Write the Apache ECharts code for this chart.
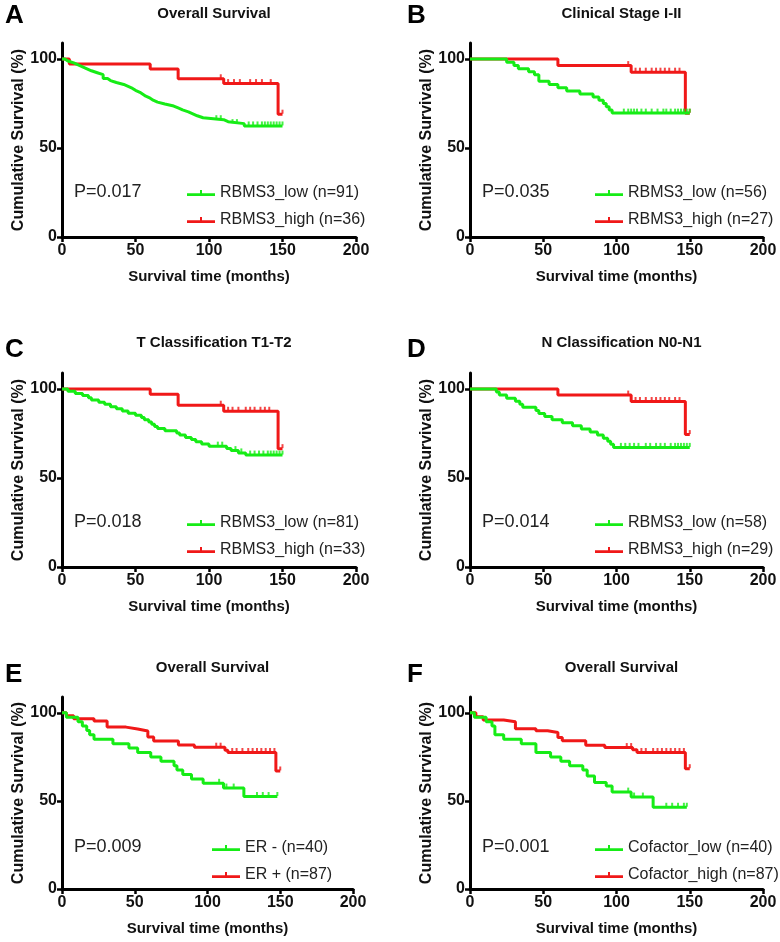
<!DOCTYPE html>
<html>
<head>
<meta charset="utf-8">
<script src="https://cdn.jsdelivr.net/npm/echarts@6/dist/echarts.min.js"></script>
<style>html,body{margin:0;padding:0;background:#fff;}#c{width:780px;height:942px;}</style>
</head>
<body>
<div id="c"></div>
<script>
// ---------- DATA ----------
const titles = ['Overall Survival', 'Clinical Stage I-II', 'T Classification T1-T2', 'N Classification N0-N1', 'Overall Survival', 'Overall Survival'];
const letters = ['A', 'B', 'C', 'D', 'E', 'F'];
const pTexts = ['P=0.017', 'P=0.035', 'P=0.018', 'P=0.014', 'P=0.009', 'P=0.001'];
const lowNames = ['RBMS3_low (n=91)', 'RBMS3_low (n=56)', 'RBMS3_low (n=81)', 'RBMS3_low (n=58)', 'ER - (n=40)', 'Cofactor_low (n=40)'];
const highNames = ['RBMS3_high (n=36)', 'RBMS3_high (n=27)', 'RBMS3_high (n=33)', 'RBMS3_high (n=29)', 'ER + (n=87)', 'Cofactor_high (n=87)'];
const xTicks = [0, 50, 100, 150, 200];
const yTicks = [0, 50, 100];
const xName = 'Survival time (months)';
const yName = 'Cumulative Survival (%)';

// Panel A
const aLowT = [0,2,4,8,11,14,17,20,24,28,31,33,37,42,45,48,50,53,55,57,60,62,65,70,76,79,82,86,89,92,96,110,113,124,150];
const aLowS = [100,98.9,97.8,96.7,95.6,94.5,93.4,92.3,91.2,89.0,87.9,86.8,85.7,84.6,83.5,82.4,81.3,80.2,79.1,78.0,76.9,75.8,74.7,73.6,72.5,71.4,70.3,69.2,68.1,67.0,65.9,64.8,63.7,62.4,62.4];
const aLowCens = [105,108,116,119,127,130,133,136,138,140,142,144,146,148,150];
const aHighT = [0,5,60,79,110,147,150];
const aHighS = [100,97.2,94.4,88.9,86.2,69.0,69.0];
const aHighCens = [108,113,117,121,128,132,136,142,150];
// Panel B
const bLowT = [0,25,30,33,40,44,47,54,60,66,75,84,88,91,93,95,97,150];
const bLowS = [100,98.2,96.4,94.6,92.9,91.1,87.5,85.7,83.9,82.1,80.4,78.6,76.8,75.0,73.2,71.4,69.6,69.6];
const bLowCens = [105,108,110,112,114,117,120,124,128,132,134,137,140,142,144,146,148,150];
const bHighT = [0,60,110,147,150];
const bHighS = [100,96.3,92.6,69.5,69.5];
const bHighCens = [108,113,116,120,124,127,130,133,136,140,143,150];
// Panel C
const cLowT = [0,4,9,14,18,20,25,29,33,37,41,45,50,54,56,59,61,63,65,70,78,80,84,88,91,95,100,112,115,120,125,150];
const cLowS = [100,98.8,97.5,96.3,95.1,93.8,92.6,91.4,90.1,88.9,87.7,86.4,85.2,84.0,82.7,81.5,80.2,79.0,77.8,76.5,75.3,74.1,72.8,71.6,70.4,69.1,67.9,66.6,65.4,64.1,62.9,62.9];
const cLowCens = [106,109,118,122,128,131,134,137,140,142,144,146,148,150];
const cHighT = [0,60,79,110,147,150];
const cHighS = [100,97.0,90.9,87.5,66.5,66.5];
const cHighCens = [108,113,116,120,125,128,131,135,138,141,150];
// Panel D
const dLowT = [0,18,20,25,31,34,36,45,47,51,56,63,70,76,82,87,91,94,96,98,150];
const dLowS = [100,98.3,96.6,94.8,93.1,91.4,89.7,87.9,86.2,84.5,82.8,81.0,79.3,77.6,75.9,74.1,72.4,70.7,69.0,67.2,67.2];
const dLowCens = [103,106,109,112,115,120,123,127,130,133,137,140,142,144,146,148,150];
const dHighT = [0,60,110,147,150];
const dHighS = [100,96.6,93.0,74.4,74.4];
const dHighCens = [108,113,116,120,124,127,130,133,136,140,143,150];
// Panel E
const eLowT = [0,3,11,14,17,19,22,35,46,52,61,68,77,79,83,89,97,111,125,148];
const eLowS = [100,97.5,95.0,92.5,90.0,87.5,85.0,82.5,80.0,77.5,75.0,72.5,70.0,67.5,65.0,62.5,60.0,57.3,52.5,52.5];
const eLowCens = [108,113,118,134,138,142,148];
const eHighT = [0,3,8,22,31,44,52,59,63,80,91,112,114,147,150];
const eHighS = [100,98.3,96.6,95.4,91.9,90.8,89.7,86.3,84.0,81.7,80.5,78.8,77.5,67.0,67.0];
const eHighCens = [106,109,117,120,124,128,131,134,137,140,143,146,150];
// Panel F
const fLowT = [0,3,11,15,17,23,35,45,55,62,68,77,80,85,93,97,110,125,148];
const fLowS = [100,97.5,95.0,92.5,87.5,85.0,82.5,77.5,75.0,72.5,70.0,67.5,64.2,60.4,58.5,55.0,52.2,46.4,46.4];
const fLowCens = [108,112,118,134,138,142,146,148];
const fHighT = [0,4,9,23,31,45,53,60,63,79,92,111,114,147,150];
const fHighS = [100,97.8,96.0,94.9,91.0,89.8,88.8,86.0,84.1,81.6,80.3,79.0,77.5,68.3,68.3];
const fHighCens = [107,110,117,120,125,128,131,134,137,140,143,146,150];

// ---------- BUILD ----------
const lowSets = [[aLowT,aLowS,aLowCens],[bLowT,bLowS,bLowCens],[cLowT,cLowS,cLowCens],[dLowT,dLowS,dLowCens],[eLowT,eLowS,eLowCens],[fLowT,fLowS,fLowCens]];
const highSets = [[aHighT,aHighS,aHighCens],[bHighT,bHighS,bHighCens],[cHighT,cHighS,cHighCens],[dHighT,dHighS,dHighCens],[eHighT,eHighS,eHighCens],[fHighT,fHighS,fHighCens]];

const FONT = 'Arial, "Liberation Sans", Helvetica, sans-serif';
const GREEN = '#16ec16';
const RED = '#f01818';

const gridLeft = [62, 470, 62, 470, 62, 470];
const gridWidth = [294, 293, 294, 293, 291, 293];
const rowTop = [43, 373, 697];
const rowHeight = [194, 194, 192];
const titleTop = [1, 330, 655];
const letterTop = [3, 337, 662];
const letterLeft = [5, 407];
const pTop = [183, 513, 838];
const pLeft = [74, 482];
const legTop = [180, 510, 835];
const legLeft = [182, 590, 182, 590, 207, 590];

function survAt(T, S, t) {
  let v = S[0];
  for (let i = 0; i < T.length; i++) { if (T[i] <= t) v = S[i]; }
  return v;
}

const grid = [], xAxis = [], yAxis = [], series = [], legend = [], title = [], graphic = [];
const icon = 'path://M0,3.2L28,3.2L28,6L0,6Z M13,0L15,0L15,4L13,4Z';

for (let i = 0; i < 6; i++) {
  const row = Math.floor(i / 2), col = i % 2;
  grid.push({ left: gridLeft[i], top: rowTop[row], width: gridWidth[i], height: rowHeight[row], containLabel: false });
  xAxis.push({
    type: 'value', gridIndex: i, min: 0, max: 200, interval: 50,
    name: xName, nameLocation: 'middle', nameGap: 32,
    nameTextStyle: { fontSize: 15, fontWeight: 'bold', color: '#111', fontFamily: FONT },
    axisLine: { show: true, onZero: false, lineStyle: { color: '#000', width: 3 } },
    axisTick: { show: true, length: 5, lineStyle: { color: '#000', width: 2.5 } },
    axisLabel: { fontSize: 16, fontWeight: 'bold', color: '#111', fontFamily: FONT, margin: 6 },
    splitLine: { show: false }
  });
  yAxis.push({
    type: 'value', gridIndex: i, min: 0, max: 109, interval: 50,
    name: yName, nameLocation: 'middle', nameGap: 34, nameRotate: 90,
    nameTextStyle: { fontSize: 16, fontWeight: 'bold', color: '#111', fontFamily: FONT },
    axisLine: { show: true, onZero: false, lineStyle: { color: '#000', width: 3 } },
    axisTick: { show: true, length: 5, customValues: yTicks, lineStyle: { color: '#000', width: 2.5 } },
    axisLabel: { fontSize: 16, fontWeight: 'bold', color: '#111', fontFamily: FONT, margin: 5, customValues: yTicks },
    splitLine: { show: false }
  });
  const [hT, hS, hC] = highSets[i];
  const [lT, lS, lC] = lowSets[i];
  series.push({
    type: 'line', name: highNames[i], xAxisIndex: i, yAxisIndex: i, step: 'end',
    data: hT.map((t, k) => [t, hS[k]]), showSymbol: false, symbol: 'none',
    lineStyle: { color: RED, width: 3 }, itemStyle: { color: RED }, z: 2, animation: false
  });
  series.push({
    type: 'scatter', xAxisIndex: i, yAxisIndex: i,
    data: hC.map(t => [t, survAt(hT, hS, t)]), symbol: 'rect', symbolSize: [2, 4], symbolOffset: [0, -2.5],
    itemStyle: { color: RED }, z: 2, silent: true, animation: false
  });
  series.push({
    type: 'line', name: lowNames[i], xAxisIndex: i, yAxisIndex: i, step: 'end',
    data: lT.map((t, k) => [t, lS[k]]), showSymbol: false, symbol: 'none',
    lineStyle: { color: GREEN, width: 3 }, itemStyle: { color: GREEN }, z: 3, animation: false
  });
  series.push({
    type: 'scatter', xAxisIndex: i, yAxisIndex: i,
    data: lC.map(t => [t, survAt(lT, lS, t)]), symbol: 'rect', symbolSize: [2, 4], symbolOffset: [0, -2.5],
    itemStyle: { color: GREEN }, z: 3, silent: true, animation: false
  });
  legend.push({
    data: [lowNames[i], highNames[i]], orient: 'vertical', left: legLeft[i], top: legTop[row],
    itemWidth: 28, itemHeight: 6, itemGap: 11, icon: icon, selectedMode: false,
    textStyle: { fontSize: 16, color: '#222', fontFamily: FONT, padding: [0, 0, 0, 0] }
  });
  title.push({
    text: titles[i], left: gridLeft[i] + gridWidth[i] / 2, top: titleTop[row], textAlign: 'center',
    textStyle: { fontSize: 15, fontWeight: 'bold', color: '#111', fontFamily: FONT }
  });
  graphic.push({
    type: 'text', left: letterLeft[col], top: letterTop[row],
    style: { text: letters[i], font: 'bold 26px ' + FONT, fill: '#000' }
  });
  graphic.push({
    type: 'text', left: pLeft[col], top: pTop[row],
    style: { text: pTexts[i], font: '18px ' + FONT, fill: '#222' }
  });
}

const chart = echarts.init(document.getElementById('c'), null, { renderer: 'canvas' });
chart.setOption({ animation: false, backgroundColor: '#fff', grid, xAxis, yAxis, series, legend, title, graphic });
</script>
</body>
</html>
